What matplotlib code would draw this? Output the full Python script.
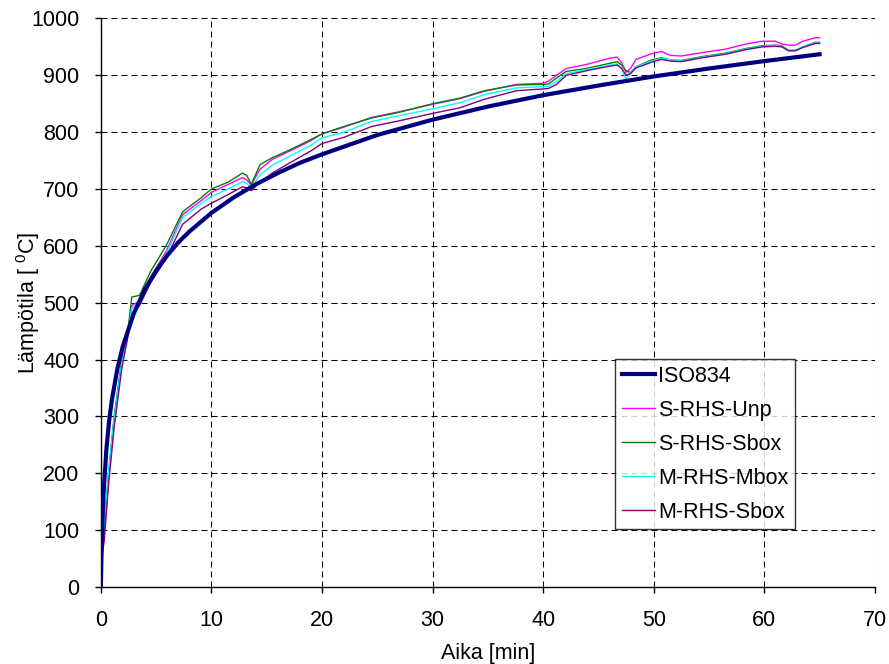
import matplotlib
matplotlib.use("Agg")
import matplotlib.pyplot as plt

# ===============================
# DATA
# ===============================
iso_t = [0, 0.1, 0.25, 0.5, 0.75, 1, 1.5, 2, 3, 4, 5, 6, 7, 8, 10, 12, 14, 16, 18,
         20, 25, 30, 35, 40, 45, 50, 55, 60, 65]
iso_temp = [0, 90, 165, 241, 292, 329, 384, 424, 482, 524, 556, 583, 606, 625, 658,
            685, 708, 728, 746, 761, 795, 822, 845, 865, 882, 898, 912, 925, 937]

meas_t = [0, 0.3, 0.7, 1.2, 1.9, 2.5, 2.8, 3.5, 4.5, 5.9, 7.4, 9.1, 10, 11.5, 12.8,
          13.2, 13.6, 14.4, 15.5, 17, 19, 20, 22, 24.5, 27, 30, 32.5, 34.7, 37.6, 40,
          40.5, 41.2, 42.1, 43.9, 46, 46.7, 47.1, 47.5, 47.9, 48.4, 49.8, 50.7, 51.5,
          52.5, 54.4, 56.5, 58.3, 59.8, 61, 61.6, 62.2, 62.8, 63.5, 64.6, 65]

s_rhs_unp = [50, 90, 190, 290, 395, 450, 495, 503, 545, 590, 655, 680, 694, 708, 720,
             716, 707, 735, 752, 766, 785, 797, 809, 826, 836, 849, 859, 872, 884, 886,
             890, 900, 912, 919, 930, 932, 922, 905, 912, 928, 938, 942, 935,
             934, 940, 946, 955, 960, 960, 955, 953, 953, 960, 966, 966]

s_rhs_sbox = [60, 100, 200, 300, 400, 460, 510, 513, 555, 600, 660, 685, 700, 712, 728,
              724, 708, 743, 755, 768, 787, 797, 810, 825, 835, 850, 860, 873, 883, 884,
              885, 895, 907, 912, 921, 924, 918, 908, 905, 915, 927, 931, 927,
              926, 933, 939, 947, 952, 953, 952, 944, 944, 950, 958, 958]

m_rhs_mbox = [70, 110, 200, 295, 395, 455, 490, 500, 540, 585, 650, 675, 687, 700, 713,
              710, 702, 725, 742, 757, 777, 790, 800, 819, 829, 841, 852, 866, 878, 880,
              881, 889, 903, 910, 918, 920, 912, 893, 905, 915, 925, 930, 927,
              925, 932, 938, 946, 951, 952, 951, 944, 944, 950, 957, 957]

m_rhs_sbox = [40, 80, 180, 280, 385, 445, 480, 495, 535, 578, 638, 665, 675, 690, 704,
              702, 697, 712, 728, 745, 767, 780, 791, 810, 820, 833, 843, 858, 873, 876,
              877, 884, 900, 908, 916, 918, 912, 900, 903, 913, 923, 928, 925,
              924, 931, 937, 945, 950, 951, 950, 943, 943, 949, 956, 956]

x_ticks = [0, 10, 20, 30, 40, 50, 60, 70]
y_ticks = [0, 100, 200, 300, 400, 500, 600, 700, 800, 900, 1000]

# ===============================
# STYLE
# ===============================
FS = 15.5
plt.rcParams['font.family'] = ['Liberation Sans', 'DejaVu Sans']
plt.rcParams['font.size'] = FS
plt.rcParams['mathtext.default'] = 'regular'
plt.rcParams['lines.scale_dashes'] = False

fig = plt.figure(figsize=(8.89, 6.64), dpi=100)
ax = fig.add_axes([0.1134, 0.1160, 0.8707, 0.8562])

# ===============================
# PLOT
# ===============================
ax.plot(iso_t, iso_temp, color='#000080', lw=3, label='ISO834', zorder=3)
ax.plot(meas_t, s_rhs_unp, color='#FF00FF', lw=1, label='S-RHS-Unp', zorder=2)
ax.plot(meas_t, s_rhs_sbox, color='#008000', lw=1, label='S-RHS-Sbox', zorder=2)
ax.plot(meas_t, m_rhs_mbox, color='#00FFFF', lw=1, label='M-RHS-Mbox', zorder=2)
ax.plot(meas_t, m_rhs_sbox, color='#800080', lw=1, label='M-RHS-Sbox', zorder=2)

ax.set_xlim(0, 70)
ax.set_ylim(0, 1000)
ax.set_xticks(x_ticks)
ax.set_yticks(y_ticks)
ax.grid(True, color='black', ls=(0, (4.3, 2.9)), lw=0.75)
ax.set_axisbelow(True)

ax.spines['top'].set_visible(False)
ax.spines['right'].set_visible(False)
ax.spines['left'].set_linewidth(1)
ax.spines['bottom'].set_linewidth(1)
ax.tick_params(direction='out', length=4.5, width=1, labelsize=FS)
ax.tick_params(axis='y', pad=11)
ax.tick_params(axis='x', pad=12)

ax.set_xlabel('Aika [min]', fontsize=FS, labelpad=9)
ax.set_ylabel('Lämpötila [ $^{0}$C]', fontsize=FS, labelpad=-8)

leg = ax.legend(loc='lower right', bbox_to_anchor=(0.8966, 0.102), fontsize=FS,
                frameon=True, fancybox=False, edgecolor='black', borderaxespad=0,
                handlelength=1.55, handletextpad=0.15, borderpad=0.3,
                labelspacing=0.6)
leg.get_frame().set_linewidth(1)

fig.savefig('out.png', dpi=100)
